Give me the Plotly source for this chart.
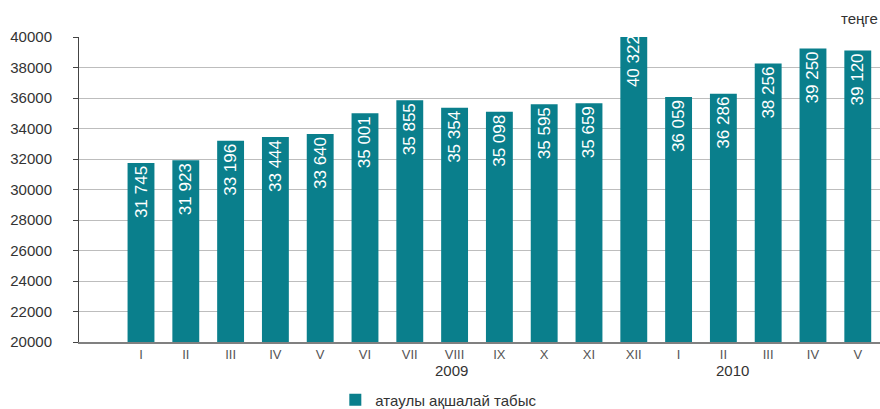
import plotly.graph_objects as go

months = ["I", "II", "III", "IV", "V", "VI", "VII", "VIII", "IX", "X", "XI", "XII",
          "I", "II", "III", "IV", "V"]
values = [31745, 31923, 33196, 33444, 33640, 35001, 35855, 35354, 35098, 35595, 35659,
          40322, 36059, 36286, 38256, 39250, 39120]
years = ["2009", "2010"]
year_pos = [6.94, 13.2]
series_name = "атаулы ақшалай табыс"
unit = "теңге"
y_ticks = list(range(20000, 40001, 2000))

x = list(range(len(months)))
labels = [f"{v:,}".replace(",", " ") for v in values]

FONT = "Liberation Sans, Arial, sans-serif"
BAR = "#0a7f8c"

fig = go.Figure()
fig.add_trace(go.Bar(
    x=x, y=values, name=series_name, marker=dict(color=BAR, line=dict(width=0)),
    width=0.6, text=labels, textposition="inside", insidetextanchor="end",
    textangle=-90, constraintext="none",
    textfont=dict(color="white", size=17, family=FONT),
    showlegend=True,
))

annotations = [
    dict(x=p, y=-0.092, xref="x", yref="paper", text=t, showarrow=False,
         font=dict(size=15, color="#333333", family=FONT), yanchor="middle")
    for p, t in zip(year_pos, years)
]
annotations.append(dict(x=1, y=1, xref="paper", yref="paper", yshift=19, text=unit,
                        showarrow=False, xanchor="right", yanchor="middle",
                        font=dict(size=15, color="#333333", family=FONT)))

fig.update_layout(
    width=880, height=409,
    margin=dict(l=79, r=0, t=37, b=67, autoexpand=False),
    paper_bgcolor="white", plot_bgcolor="white",
    font=dict(family=FONT, color="#333333"),
    bargap=0.4,
    annotations=annotations,
    legend=dict(orientation="h", x=0.32, xanchor="left", y=0.022, yref="container",
                yanchor="middle",
                font=dict(size=15, color="#333333", family=FONT),
                itemwidth=30, bgcolor="rgba(0,0,0,0)"),
    xaxis=dict(range=[-1.384, 16.496], tickmode="array", tickvals=x, ticktext=months,
               showgrid=False, zeroline=False, showline=True, linecolor="#808080",
               linewidth=1.5, ticks="", tickfont=dict(size=13, color="#555555"),
               fixedrange=True),
    yaxis=dict(range=[20000, 40000], tickmode="array", tickvals=y_ticks,
               ticktext=[str(v) for v in y_ticks],
               showgrid=True, gridcolor="#bdbdbd", gridwidth=1, zeroline=False,
               showline=True, linecolor="#444444", linewidth=1,
               ticks="outside", ticklen=5, tickcolor="#444444",
               ticklabelstandoff=18,
               tickfont=dict(size=15, color="#333333"), fixedrange=True),
)

fig.write_html("out.html", config={"displayModeBar": False},
               post_script="document.body.style.margin='0';document.body.style.overflow='hidden';")
